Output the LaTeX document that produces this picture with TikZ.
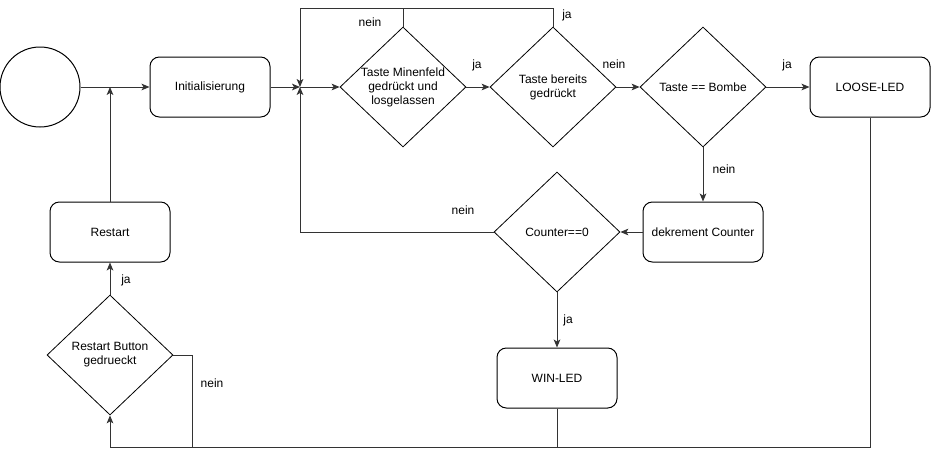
\documentclass[tikz,border=0pt]{standalone}
\usepackage{fontspec}
\setmainfont{Liberation Sans}
\usetikzlibrary{shapes.geometric,arrows.meta}
\begin{document}
\begin{tikzpicture}[x=0.75pt,y=-0.75pt,
  font=\fontsize{9}{10.5}\selectfont,
  box/.style={draw,rounded corners=7pt,minimum width=90pt,minimum height=45pt,inner sep=0pt,line width=0.75pt},
  dec/.style={draw,shape=diamond,minimum width=94.5pt,minimum height=90pt,inner sep=0pt,line width=0.6pt},
  startc/.style={draw,circle,minimum size=60pt,inner sep=0pt,line width=0.75pt},
  con/.style={line width=0.75pt,draw=black!80},
  arr/.style={con,-{Stealth[length=6pt,width=5pt,inset=1.5pt]}},
  lbl/.style={inner sep=0pt}
]
\useasboundingbox (0,0) rectangle (932,457);
% nodes
\node[startc] (start) at (40,87) {};
\node[box] (init) at (210,87) {Initialisierung};
\node[box] (restart) at (110,232) {Restart};
\node[dec,label={[align=center]center:Restart Button\\gedrueckt}] (rbtn) at (110,355) {};
\node[dec,label={[align=center]center:Taste Minenfeld\\gedrückt und\\losgelassen}] (d1) at (403,87) {};
\node[dec,label={[align=center]center:Taste bereits\\gedrückt}] (d2) at (553,87) {};
\node[dec,label={[align=center]center:Taste == Bombe}] (d3) at (703,87) {};
\node[box] (loose) at (870,87) {LOOSE-LED};
\node[box] (dek) at (703,232) {dekrement Counter};
\node[dec,label={[align=center]center:Counter==0}] (cnt) at (557,232) {};
\node[box] (win) at (557,378) {WIN-LED};
% junctions
\coordinate (j1) at (110,87);
\coordinate (j2) at (300,87);
\coordinate (top1) at (403,8);
\coordinate (topl) at (300,8);
\coordinate (lowl) at (300,232);
\coordinate (bl) at (110,447);
\coordinate (br) at (870,447);
\coordinate (bn) at (192,447);
% connectors
\draw[arr] (start.east) -- (init.west);
\draw[arr] (restart.north) -- (j1);
\draw[arr] (init.east) -- (j2);
\draw[arr] (j2) -- (d1.west);
\draw[arr] (d1.north) -- (top1) -- (topl) -- (j2);
\draw[con] (d2.north) |- (top1);
\draw[arr] (cnt.west) -- (lowl) -- (j2);
\draw[arr] (d1.east) -- (d2.west);
\draw[arr] (d2.east) -- (d3.west);
\draw[arr] (d3.east) -- (loose.west);
\draw[arr] (d3.south) -- (dek.north);
\draw[arr] (dek.west) -- (cnt.east);
\draw[arr] (cnt.south) -- (win.north);
\draw[arr] (rbtn.north) -- (restart.south);
\draw[arr] (loose.south) -- (br) -- (bl) -- (rbtn.south);
\draw[con] (win.south) -- (win.south |- bl);
\draw[con] (rbtn.east) -| (bn);
% labels
\node[lbl] at (370,22) {nein};
\node[lbl] at (567,15) {ja};
\node[lbl] at (477,65) {ja};
\node[lbl] at (614,64) {nein};
\node[lbl] at (787,65) {ja};
\node[lbl] at (724,169) {nein};
\node[lbl] at (463,210) {nein};
\node[lbl] at (568,320) {ja};
\node[lbl] at (126,280) {ja};
\node[lbl] at (212,383) {nein};
\end{tikzpicture}
\end{document}
